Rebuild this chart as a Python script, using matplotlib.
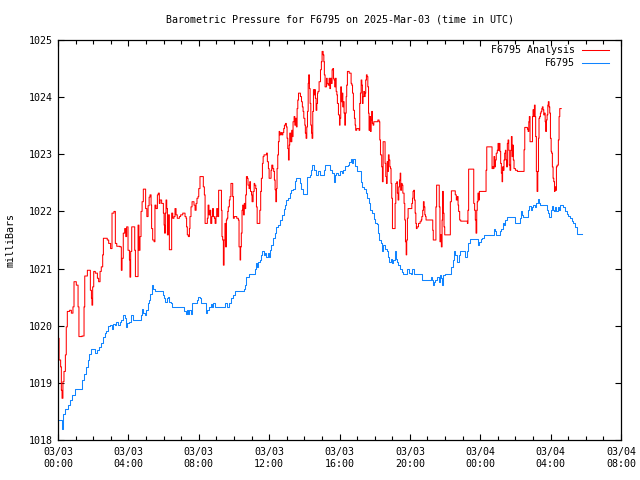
import matplotlib
matplotlib.use("Agg")
import matplotlib.pyplot as plt
from matplotlib.ticker import MultipleLocator

# ---------------- data (hours since 2025-03-03 00:00 UTC, millibars) ----------------
analysis_obs = [
    (0.0, 1019.78), (0.06, 1019.40), (0.15, 1019.28), (0.19, 1018.87), (0.23, 1018.73),
    (0.28, 1019.02), (0.34, 1019.20), (0.42, 1019.49), (0.47, 1019.98), (0.53, 1020.25),
    (0.66, 1020.27), (0.76, 1020.22), (0.85, 1020.33), (0.91, 1020.77), (1.04, 1020.71),
    (1.14, 1020.33), (1.19, 1019.81), (1.36, 1019.82), (1.48, 1020.33), (1.52, 1020.87),
    (1.67, 1020.97), (1.80, 1020.97), (1.84, 1020.62), (1.90, 1020.48), (1.93, 1020.36),
    (1.97, 1020.68), (2.03, 1020.95), (2.12, 1020.92), (2.24, 1020.83), (2.31, 1020.77),
    (2.39, 1020.95), (2.46, 1021.03), (2.54, 1021.24), (2.58, 1021.53), (2.69, 1021.53),
    (2.80, 1021.50), (2.88, 1021.44), (2.99, 1021.35), (3.07, 1021.97), (3.18, 1022.00),
    (3.26, 1021.44), (3.34, 1021.39), (3.52, 1021.38), (3.60, 1020.97), (3.64, 1021.18),
    (3.71, 1021.62), (3.79, 1021.70), (3.85, 1021.56), (3.90, 1021.73), (3.98, 1021.32),
    (4.06, 1021.15), (4.09, 1020.85), (4.13, 1021.30), (4.19, 1021.73), (4.32, 1021.73),
    (4.36, 1021.32), (4.40, 1020.86), (4.51, 1020.86), (4.55, 1021.76), (4.60, 1021.32),
    (4.66, 1021.56), (4.72, 1022.00), (4.78, 1022.17), (4.85, 1022.39), (4.95, 1022.39),
    (4.98, 1022.05), (5.05, 1021.91), (5.12, 1022.10), (5.18, 1022.25), (5.23, 1022.29),
    (5.29, 1022.11), (5.32, 1021.70), (5.38, 1021.50), (5.46, 1021.47), (5.51, 1022.11),
    (5.57, 1022.05), (5.65, 1022.29), (5.70, 1022.32), (5.76, 1022.14), (5.80, 1022.20),
    (5.89, 1022.14), (5.99, 1021.97), (6.03, 1021.76), (6.06, 1021.62), (6.10, 1021.97),
    (6.14, 1022.20), (6.18, 1022.05), (6.22, 1021.59), (6.27, 1021.94), (6.33, 1021.33),
    (6.40, 1021.33), (6.46, 1021.97), (6.52, 1021.88), (6.59, 1021.91), (6.65, 1022.05),
    (6.71, 1021.94), (6.78, 1021.88), (6.90, 1021.91), (6.97, 1021.94), (7.09, 1021.97),
    (7.22, 1021.91), (7.28, 1021.88), (7.31, 1021.73), (7.35, 1021.59), (7.41, 1021.56),
    (7.47, 1021.70), (7.50, 1021.91), (7.56, 1022.08), (7.62, 1022.17), (7.73, 1022.11),
    (7.79, 1022.02), (7.85, 1022.14), (7.90, 1022.23), (7.96, 1022.26), (8.00, 1022.40),
    (8.07, 1022.61), (8.22, 1022.61), (8.26, 1022.43), (8.32, 1022.29), (8.36, 1021.79),
    (8.45, 1021.79), (8.49, 1021.88), (8.53, 1022.11), (8.58, 1021.94), (8.64, 1022.02),
    (8.68, 1021.79), (8.74, 1021.91), (8.79, 1022.05), (8.83, 1021.91), (8.89, 1021.88),
    (8.93, 1021.79), (8.98, 1021.91), (9.02, 1022.05), (9.08, 1021.91), (9.13, 1022.37),
    (9.25, 1022.37), (9.29, 1022.02), (9.32, 1021.56), (9.36, 1021.50), (9.40, 1021.06),
    (9.44, 1021.50), (9.49, 1021.79), (9.53, 1021.38), (9.57, 1021.85), (9.61, 1021.88),
    (9.65, 1022.00), (9.68, 1022.08), (9.74, 1022.20), (9.78, 1022.26), (9.83, 1022.49),
    (9.89, 1022.49), (9.93, 1022.26), (9.97, 1021.88), (10.02, 1021.91), (10.16, 1021.88),
    (10.25, 1021.85), (10.29, 1021.38), (10.35, 1021.15), (10.38, 1021.38), (10.42, 1021.62),
    (10.46, 1022.02), (10.50, 1022.11), (10.54, 1021.94), (10.59, 1022.14), (10.63, 1022.05),
    (10.67, 1022.29), (10.71, 1022.61), (10.77, 1022.58), (10.80, 1022.46), (10.86, 1022.40),
    (10.90, 1022.52), (10.94, 1022.35), (11.00, 1022.29), (11.03, 1022.17), (11.09, 1022.35),
    (11.15, 1022.49), (11.18, 1022.46), (11.24, 1022.40), (11.28, 1022.08), (11.32, 1021.79),
    (11.43, 1021.79), (11.47, 1022.02), (11.52, 1022.35), (11.56, 1022.58), (11.62, 1022.84),
    (11.66, 1022.96), (11.71, 1022.99), (11.77, 1022.99), (11.85, 1023.02), (11.90, 1022.87),
    (11.96, 1022.75), (12.00, 1022.58), (12.07, 1022.58), (12.11, 1022.72), (12.15, 1022.81),
    (12.21, 1022.75), (12.26, 1022.70), (12.30, 1022.55), (12.34, 1022.38), (12.38, 1022.17),
    (12.42, 1022.40), (12.45, 1022.75), (12.49, 1022.99), (12.53, 1023.22), (12.57, 1023.40),
    (12.60, 1023.34), (12.66, 1023.38), (12.72, 1023.34), (12.78, 1023.38), (12.83, 1023.45),
    (12.87, 1023.51), (12.93, 1023.54), (12.98, 1023.48), (13.02, 1023.28), (13.06, 1023.10),
    (13.10, 1022.90), (13.14, 1023.16), (13.17, 1023.37), (13.23, 1023.22), (13.29, 1023.42),
    (13.32, 1023.31), (13.36, 1023.57), (13.42, 1023.66), (13.46, 1023.51), (13.51, 1023.63),
    (13.55, 1023.48), (13.59, 1023.80), (13.63, 1023.95), (13.67, 1024.07), (13.74, 1024.07),
    (13.78, 1024.01), (13.84, 1023.92), (13.89, 1023.83), (13.93, 1023.75), (13.97, 1023.63),
    (14.03, 1023.51), (14.06, 1023.37), (14.10, 1023.28), (14.14, 1023.48), (14.18, 1023.75),
    (14.22, 1024.24), (14.25, 1024.39), (14.29, 1024.15), (14.33, 1023.89), (14.37, 1023.51),
    (14.41, 1023.37), (14.44, 1023.28), (14.48, 1023.75), (14.52, 1024.13), (14.56, 1024.04),
    (14.59, 1024.13), (14.63, 1023.98), (14.67, 1023.77), (14.71, 1023.89), (14.75, 1024.07),
    (14.78, 1024.10), (14.84, 1024.27), (14.88, 1024.27), (14.92, 1024.48), (14.97, 1024.62),
    (15.01, 1024.80), (15.07, 1024.74), (15.11, 1024.62), (15.14, 1024.39), (15.18, 1024.18),
    (15.22, 1024.18), (15.26, 1024.33), (15.30, 1024.24), (15.35, 1024.21), (15.41, 1024.33),
    (15.45, 1024.15), (15.49, 1024.33), (15.54, 1024.24), (15.58, 1024.48), (15.62, 1024.50),
    (15.66, 1024.33), (15.69, 1024.30), (15.73, 1024.18), (15.77, 1024.33), (15.81, 1024.10),
    (15.85, 1024.04), (15.88, 1023.89), (15.94, 1023.69), (16.00, 1023.51), (16.03, 1023.63),
    (16.07, 1024.18), (16.11, 1023.92), (16.15, 1024.07), (16.19, 1023.83), (16.22, 1023.92),
    (16.26, 1023.72), (16.30, 1023.51), (16.34, 1023.72), (16.38, 1024.01), (16.41, 1024.21),
    (16.45, 1024.45), (16.55, 1024.42), (16.60, 1024.42), (16.66, 1024.24), (16.70, 1024.21),
    (16.74, 1024.07), (16.79, 1023.77), (16.85, 1023.63), (16.89, 1023.51), (16.92, 1023.42),
    (16.98, 1023.45), (17.11, 1023.42), (17.15, 1023.89), (17.19, 1024.07), (17.23, 1024.30),
    (17.27, 1024.21), (17.30, 1023.89), (17.34, 1024.01), (17.38, 1024.10), (17.42, 1024.01),
    (17.46, 1024.07), (17.49, 1024.30), (17.53, 1024.39), (17.57, 1024.36), (17.61, 1024.18),
    (17.65, 1023.72), (17.68, 1023.42), (17.72, 1023.66), (17.76, 1023.40), (17.80, 1023.60),
    (17.83, 1023.75), (17.87, 1023.54), (17.91, 1023.51), (17.95, 1023.57), (18.06, 1023.57),
    (18.18, 1023.60), (18.25, 1023.57), (18.29, 1023.25), (18.33, 1022.99), (18.40, 1022.78),
    (18.44, 1022.52), (18.48, 1023.22), (18.55, 1023.22), (18.59, 1022.84), (18.63, 1022.61),
    (18.67, 1022.49), (18.71, 1022.87), (18.74, 1022.70), (18.78, 1022.99), (18.82, 1022.90),
    (18.86, 1022.78), (18.90, 1022.75), (18.93, 1022.49), (18.97, 1022.23), (19.01, 1021.70),
    (19.12, 1021.70), (19.16, 1022.14), (19.20, 1022.49), (19.26, 1022.52), (19.29, 1022.32),
    (19.33, 1022.20), (19.37, 1022.43), (19.41, 1022.55), (19.45, 1022.67), (19.48, 1022.37),
    (19.52, 1022.49), (19.56, 1022.46), (19.60, 1022.32), (19.67, 1022.14), (19.71, 1021.85),
    (19.75, 1021.47), (19.79, 1021.24), (19.82, 1021.50), (19.86, 1021.88), (19.90, 1022.05),
    (20.07, 1022.05), (20.11, 1022.14), (20.15, 1022.23), (20.18, 1022.35), (20.22, 1022.37),
    (20.26, 1022.20), (20.30, 1021.97), (20.34, 1021.79), (20.37, 1021.70), (20.41, 1021.73),
    (20.49, 1021.79), (20.58, 1021.82), (20.64, 1021.85), (20.68, 1021.91), (20.73, 1022.02),
    (20.77, 1022.17), (20.81, 1022.08), (20.85, 1021.94), (20.89, 1021.91), (20.92, 1021.85),
    (21.26, 1021.85), (21.30, 1021.67), (21.33, 1021.50), (21.45, 1021.50), (21.48, 1022.08),
    (21.52, 1022.46), (21.64, 1022.46), (21.67, 1022.08), (21.71, 1021.47), (21.75, 1021.59),
    (21.79, 1021.38), (21.83, 1021.85), (21.86, 1022.35), (21.90, 1021.97), (21.94, 1021.73),
    (21.98, 1021.59), (22.26, 1021.59), (22.30, 1022.17), (22.36, 1022.36), (22.55, 1022.36),
    (22.58, 1022.29), (22.64, 1022.20), (22.70, 1022.26), (22.74, 1022.11), (22.77, 1022.00),
    (22.83, 1021.85), (22.89, 1021.83), (23.21, 1021.83), (23.27, 1021.79), (23.30, 1022.02),
    (23.34, 1022.74), (23.59, 1022.74), (23.63, 1022.14), (23.68, 1022.02), (23.72, 1021.85),
    (23.76, 1021.62), (23.80, 1022.02), (23.83, 1022.17), (23.87, 1022.32), (23.91, 1022.20),
    (23.95, 1022.35), (24.25, 1022.35), (24.33, 1022.72), (24.37, 1023.13), (24.63, 1023.13),
    (24.67, 1022.75), (24.71, 1022.78), (24.74, 1022.75), (24.78, 1022.96), (24.82, 1022.78),
    (24.86, 1022.90), (24.91, 1023.02), (24.97, 1023.07), (25.01, 1023.19), (25.05, 1023.07),
    (25.09, 1023.19), (25.12, 1023.05), (25.16, 1022.84), (25.20, 1022.67), (25.24, 1022.52),
    (25.27, 1022.78), (25.31, 1022.72), (25.35, 1022.90), (25.39, 1023.02), (25.43, 1023.07),
    (25.46, 1022.90), (25.50, 1022.78), (25.54, 1023.19), (25.58, 1023.25), (25.62, 1023.07),
    (25.65, 1022.81), (25.69, 1022.72), (25.73, 1023.07), (25.77, 1023.31), (25.81, 1022.96),
    (25.84, 1023.16), (25.88, 1022.90), (25.92, 1022.75), (26.00, 1022.72), (26.11, 1022.70),
    (26.49, 1023.08), (26.53, 1023.47), (26.64, 1023.47), (26.68, 1023.44), (26.72, 1023.40),
    (26.76, 1023.57), (26.79, 1023.66), (26.83, 1023.22), (26.93, 1023.22), (26.97, 1023.66),
    (27.00, 1023.78), (27.04, 1023.66), (27.08, 1023.86), (27.12, 1023.66), (27.15, 1023.31),
    (27.19, 1022.70), (27.23, 1022.35), (27.27, 1022.70), (27.31, 1023.28), (27.34, 1023.63),
    (27.38, 1023.66), (27.42, 1023.72), (27.46, 1023.75), (27.50, 1023.80), (27.53, 1023.83),
    (27.57, 1023.78), (27.61, 1023.69), (27.65, 1023.72), (27.69, 1023.57), (27.72, 1023.40),
    (27.76, 1023.60), (27.80, 1023.69), (27.84, 1023.86), (27.87, 1023.92), (27.91, 1023.83),
    (27.95, 1023.72), (27.99, 1023.28), (28.03, 1023.05), (28.06, 1023.02), (28.10, 1022.78),
    (28.14, 1022.58), (28.18, 1022.52), (28.22, 1022.35), (28.25, 1022.43), (28.29, 1022.37),
    (28.33, 1022.78), (28.37, 1022.81), (28.41, 1022.81), (28.44, 1023.25), (28.48, 1023.66),
    (28.52, 1023.80), (28.60, 1023.80),
]

station_obs = [
    (0.0, 1018.35), (0.15, 1018.35), (0.23, 1018.19), (0.30, 1018.45), (0.40, 1018.55),
    (0.55, 1018.62), (0.70, 1018.70), (0.80, 1018.78), (0.95, 1018.90), (1.25, 1018.90),
    (1.35, 1019.05), (1.45, 1019.15), (1.60, 1019.28), (1.70, 1019.40), (1.78, 1019.50),
    (1.86, 1019.60), (2.05, 1019.60), (2.13, 1019.52), (2.20, 1019.57), (2.35, 1019.62),
    (2.45, 1019.69), (2.55, 1019.80), (2.65, 1019.87), (2.75, 1019.90), (2.85, 1020.00),
    (2.95, 1020.01), (3.05, 1019.95), (3.15, 1020.03), (3.25, 1020.01), (3.32, 1020.06),
    (3.43, 1020.01), (3.50, 1020.06), (3.60, 1020.10), (3.70, 1020.19), (3.80, 1020.13),
    (3.87, 1019.98), (3.95, 1020.04), (4.05, 1020.06), (4.15, 1020.19), (4.25, 1020.10),
    (4.60, 1020.10), (4.70, 1020.19), (4.75, 1020.30), (4.85, 1020.22), (4.95, 1020.19),
    (5.00, 1020.28), (5.10, 1020.40), (5.15, 1020.45), (5.25, 1020.55), (5.35, 1020.71),
    (5.42, 1020.65), (5.50, 1020.60), (5.90, 1020.60), (5.95, 1020.54), (6.00, 1020.48),
    (6.08, 1020.42), (6.18, 1020.48), (6.27, 1020.51), (6.33, 1020.42), (6.40, 1020.39),
    (6.48, 1020.32), (7.12, 1020.32), (7.18, 1020.25), (7.25, 1020.20), (7.31, 1020.27),
    (7.37, 1020.20), (7.44, 1020.27), (7.56, 1020.20), (7.64, 1020.39), (7.88, 1020.39),
    (7.92, 1020.45), (7.97, 1020.51), (8.07, 1020.48), (8.13, 1020.39), (8.36, 1020.39),
    (8.41, 1020.22), (8.49, 1020.27), (8.60, 1020.33), (8.68, 1020.38), (8.74, 1020.32),
    (8.83, 1020.39), (8.93, 1020.32), (9.44, 1020.32), (9.50, 1020.39), (9.63, 1020.33),
    (9.73, 1020.39), (9.82, 1020.48), (9.92, 1020.54), (10.07, 1020.60), (10.50, 1020.60),
    (10.58, 1020.65), (10.64, 1020.71), (10.71, 1020.86), (10.86, 1020.90), (11.12, 1020.90),
    (11.18, 1021.00), (11.27, 1021.09), (11.31, 1021.03), (11.37, 1021.12), (11.47, 1021.15),
    (11.52, 1021.24), (11.60, 1021.30), (11.69, 1021.24), (11.77, 1021.27), (11.84, 1021.21),
    (11.94, 1021.27), (12.00, 1021.21), (12.07, 1021.33), (12.13, 1021.41), (12.22, 1021.53),
    (12.32, 1021.62), (12.41, 1021.72), (12.51, 1021.76), (12.64, 1021.85), (12.75, 1021.94),
    (12.83, 1022.05), (12.90, 1022.11), (12.98, 1022.20), (13.08, 1022.23), (13.17, 1022.32),
    (13.26, 1022.37), (13.36, 1022.40), (13.46, 1022.53), (13.55, 1022.58), (13.74, 1022.49),
    (13.83, 1022.40), (13.93, 1022.30), (14.12, 1022.30), (14.17, 1022.61), (14.31, 1022.63),
    (14.37, 1022.72), (14.46, 1022.81), (14.55, 1022.72), (14.65, 1022.63), (14.78, 1022.71),
    (14.88, 1022.63), (15.01, 1022.63), (15.10, 1022.72), (15.18, 1022.81), (15.41, 1022.81),
    (15.48, 1022.72), (15.56, 1022.67), (15.67, 1022.52), (15.73, 1022.64), (15.82, 1022.67),
    (15.92, 1022.64), (16.03, 1022.70), (16.13, 1022.67), (16.22, 1022.72), (16.32, 1022.79),
    (16.47, 1022.81), (16.54, 1022.87), (16.64, 1022.91), (16.70, 1022.84), (16.79, 1022.91),
    (16.88, 1022.79), (16.98, 1022.71), (17.13, 1022.70), (17.23, 1022.52), (17.30, 1022.43),
    (17.41, 1022.39), (17.49, 1022.33), (17.57, 1022.23), (17.68, 1022.14), (17.76, 1022.03),
    (17.83, 1021.97), (17.95, 1021.86), (18.02, 1021.80), (18.12, 1021.78), (18.17, 1021.62),
    (18.27, 1021.50), (18.36, 1021.44), (18.44, 1021.30), (18.49, 1021.41), (18.59, 1021.35),
    (18.69, 1021.30), (18.78, 1021.21), (18.84, 1021.12), (18.91, 1021.16), (18.97, 1021.10),
    (19.06, 1021.15), (19.16, 1021.30), (19.22, 1021.16), (19.27, 1021.12), (19.35, 1021.06),
    (19.44, 1021.00), (19.54, 1020.94), (19.63, 1020.90), (19.78, 1020.90), (19.86, 1020.99),
    (19.95, 1020.93), (20.05, 1020.90), (20.11, 1020.99), (20.20, 1020.99), (20.26, 1020.90),
    (20.62, 1020.90), (20.71, 1020.80), (21.15, 1020.80), (21.19, 1020.86), (21.26, 1020.80),
    (21.32, 1020.71), (21.38, 1020.77), (21.45, 1020.80), (21.56, 1020.86), (21.64, 1020.77),
    (21.70, 1020.89), (21.76, 1020.83), (21.83, 1020.71), (21.89, 1020.89), (21.98, 1020.90),
    (22.27, 1020.90), (22.36, 1021.03), (22.46, 1021.15), (22.51, 1021.30), (22.59, 1021.24),
    (22.70, 1021.12), (22.78, 1021.24), (22.84, 1021.30), (23.08, 1021.30), (23.16, 1021.21),
    (23.23, 1021.30), (23.31, 1021.44), (23.40, 1021.52), (23.78, 1021.52), (23.88, 1021.41),
    (23.92, 1021.47), (24.03, 1021.52), (24.12, 1021.53), (24.22, 1021.59), (24.69, 1021.59),
    (24.77, 1021.70), (24.83, 1021.65), (24.92, 1021.59), (25.05, 1021.59), (25.11, 1021.65),
    (25.20, 1021.70), (25.30, 1021.79), (25.36, 1021.76), (25.43, 1021.85), (25.54, 1021.90),
    (25.92, 1021.90), (26.00, 1021.80), (26.15, 1021.80), (26.25, 1021.88), (26.32, 1022.00),
    (26.40, 1021.94), (26.45, 1021.90), (26.65, 1021.90), (26.74, 1022.03), (26.79, 1022.10),
    (26.87, 1022.03), (26.96, 1022.08), (27.02, 1022.11), (27.12, 1022.08), (27.17, 1022.14),
    (27.27, 1022.21), (27.35, 1022.14), (27.40, 1022.11), (27.73, 1022.11), (27.78, 1022.03),
    (27.87, 1021.98), (27.93, 1021.91), (28.01, 1022.03), (28.07, 1022.10), (28.12, 1022.03),
    (28.22, 1022.00), (28.27, 1022.08), (28.33, 1022.01), (28.41, 1022.08), (28.46, 1022.03),
    (28.54, 1022.11), (28.63, 1022.11), (28.73, 1022.07), (28.82, 1022.00), (28.92, 1021.95),
    (29.01, 1021.92), (29.11, 1021.88), (29.20, 1021.84), (29.30, 1021.79), (29.39, 1021.72),
    (29.49, 1021.60), (29.77, 1021.60),
]

series_names = ["F6795 Analysis", "F6795"]
tick_hours = [0, 4, 8, 12, 16, 20, 24, 28, 32]
tick_labels = ["03/03\n00:00", "03/03\n04:00", "03/03\n08:00", "03/03\n12:00",
               "03/03\n16:00", "03/03\n20:00", "03/04\n00:00", "03/04\n04:00",
               "03/04\n08:00"]
y_ticks = [1018, 1019, 1020, 1021, 1022, 1023, 1024, 1025]
title_text = "Barometric Pressure for F6795 on 2025-Mar-03 (time in UTC)"
ylabel_text = "milliBars"

# ---------------- drawing ----------------
plt.rcParams["font.family"] = ["DejaVu Sans Mono"]
FS = 7.2
RED = "#ff0000"
BLUE = "#1084ff"
LW = 0.75

W, H = 640, 480
fig = plt.figure(figsize=(W / 100, H / 100), dpi=100)
L, R, T, B = 58, 621, 40, 440
ax = fig.add_axes([L / W, 1 - B / H, (R - L) / W, (B - T) / H])

ah, av = zip(*analysis_obs)
sh, sv = zip(*station_obs)
ax.plot(ah, av, color=RED, lw=LW, drawstyle="steps-post")
ax.plot(sh, sv, color=BLUE, lw=LW, drawstyle="steps-post")

ax.set_xlim(tick_hours[0], tick_hours[-1])
ax.set_ylim(y_ticks[0], y_ticks[-1])
ax.set_xticks(tick_hours)
ax.set_xticklabels(tick_labels, fontsize=FS, linespacing=1.3)
ax.xaxis.set_minor_locator(MultipleLocator(1))
ax.set_yticks(y_ticks)
ax.set_yticklabels([str(v) for v in y_ticks], fontsize=FS)
ax.tick_params(which="both", direction="in", top=True, right=True, width=0.8, color="black")
ax.tick_params(which="major", length=4.5)
ax.tick_params(which="minor", length=3)
ax.tick_params(axis="x", pad=5)
ax.tick_params(axis="y", pad=4)
for sp in ax.spines.values():
    sp.set_linewidth(0.9)
    sp.set_color("black")

# legend (gnuplot style, right-aligned text, sample to the right)
leg_y = [(B - 50) / (B - T), (B - 63) / (B - T)]
for name, col, yy in zip(series_names, [RED, BLUE], leg_y):
    ax.text((575 - L) / (R - L), yy, name, transform=ax.transAxes, ha="right",
            va="center", fontsize=FS)
    ax.plot([(582 - L) / (R - L), (609 - L) / (R - L)], [yy, yy], transform=ax.transAxes,
            color=col, lw=LW)

fig.text((L + R) / 2 / W, 1 - 19 / H, title_text, ha="center", va="center", fontsize=FS)
fig.text(11 / W, 1 - 240 / H, ylabel_text, rotation=90, ha="center", va="center", fontsize=FS)

fig.savefig("out.png", dpi=100)
